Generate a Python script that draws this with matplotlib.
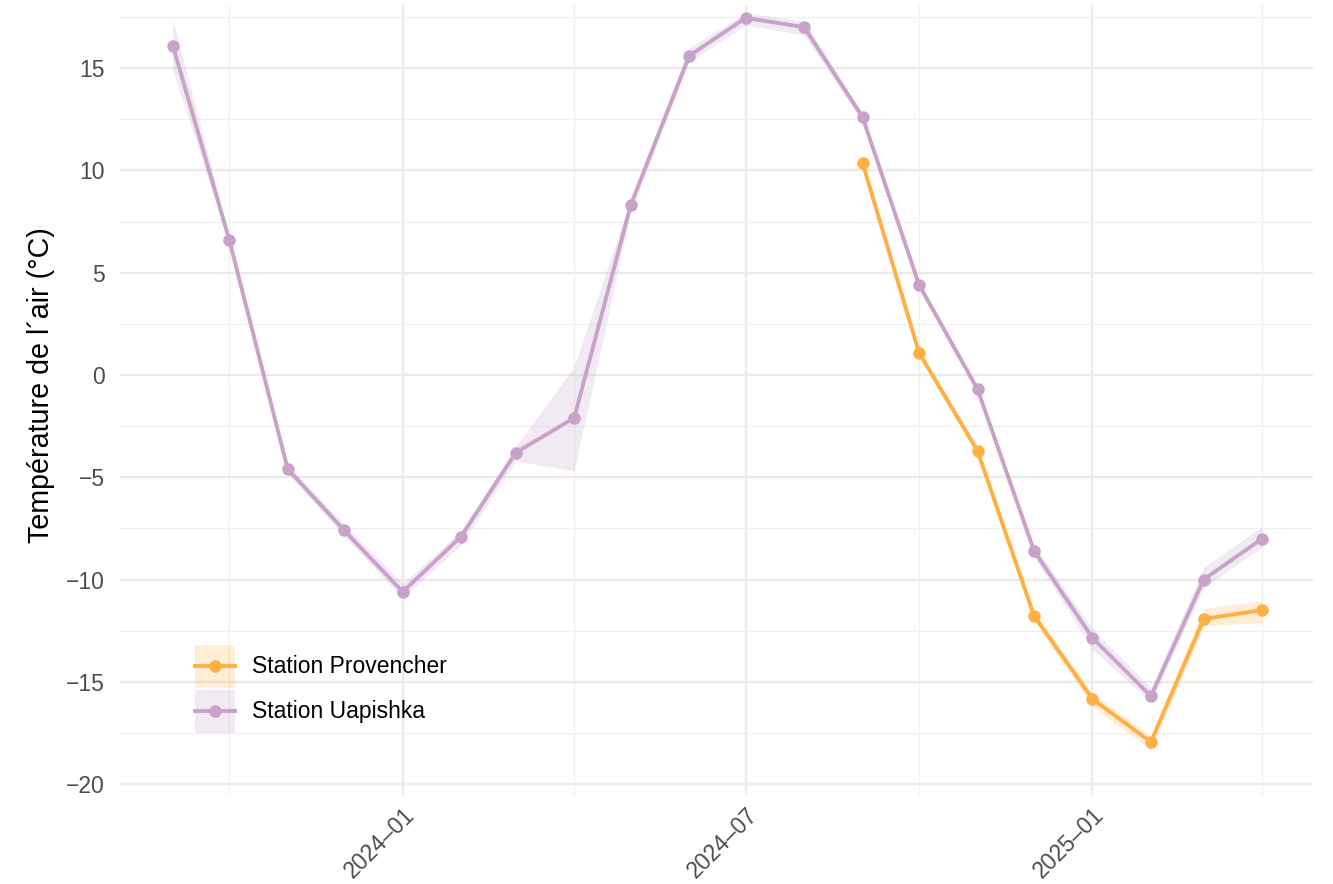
import matplotlib
matplotlib.use("Agg")
import matplotlib.pyplot as plt
from matplotlib.patches import Rectangle
from matplotlib.lines import Line2D
from matplotlib.legend_handler import HandlerBase
import numpy as np
import datetime as dt

plt.rcParams['font.family'] = ['Liberation Sans', 'DejaVu Sans']

# ---- data ----
uap_dates = ["2023-09-01", "2023-10-01", "2023-11-01", "2023-12-01", "2024-01-01",
             "2024-02-01", "2024-03-01", "2024-04-01", "2024-05-01", "2024-06-01",
             "2024-07-01", "2024-08-01", "2024-09-01", "2024-10-01", "2024-11-01",
             "2024-12-01", "2025-01-01", "2025-02-01", "2025-03-01", "2025-04-01"]
uap_mean = [16.1, 6.6, -4.6, -7.6, -10.6, -7.9, -3.8, -2.1, 8.3, 15.6,
            17.45, 17.0, 12.6, 4.4, -0.7, -8.6, -12.85, -15.7, -10.0, -8.0]
uap_low = [14.9, 6.4, -4.8, -7.9, -10.9, -8.3, -4.2, -4.7, 8.0, 15.3,
           17.1, 16.6, 12.4, 4.2, -0.9, -8.9, -13.4, -16.0, -10.4, -8.4]
uap_high = [17.4, 6.8, -4.4, -7.3, -10.2, -7.6, -3.5, 0.4, 8.6, 16.0,
            17.7, 17.3, 12.8, 4.6, -0.5, -8.3, -12.4, -15.3, -9.4, -7.4]

prov_dates = ["2024-09-01", "2024-10-01", "2024-11-01", "2024-12-01",
              "2025-01-01", "2025-02-01", "2025-03-01", "2025-04-01"]
prov_mean = [10.36, 1.08, -3.71, -11.78, -15.84, -17.94, -11.93, -11.49]
prov_low = [10.15, 0.88, -3.9, -12.0, -16.2, -18.3, -12.25, -12.1]
prov_high = [10.55, 1.28, -3.5, -11.55, -15.55, -17.65, -11.4, -11.05]

stations = ["Station Provencher", "Station Uapishka"]
colors = ["#FFB045", "#C8A2C8"]

y_ticks = [-20, -15, -10, -5, 0, 5, 10, 15]
x_ticks = ["2024-01-01", "2024-07-01", "2025-01-01"]
x_ticklabels = ["2024\u201301", "2024\u201307", "2025\u201301"]
x_minor = ["2023-10-01", "2024-04-01", "2024-10-01", "2025-04-01"]

def to_dt(lst):
    return [dt.datetime.strptime(s, "%Y-%m-%d") for s in lst]

LW = 2.8
MS = 8
ALPHA = 0.22


class RibbonLineHandler(HandlerBase):
    def create_artists(self, legend, orig_handle, xdescent, ydescent, width,
                       height, fontsize, trans):
        color = orig_handle.get_color()
        x0, y0 = -xdescent, -ydescent
        yc = y0 + height / 2.0
        r = Rectangle((x0, y0), width, height, facecolor=color, alpha=ALPHA,
                      edgecolor='none', transform=trans)
        ln = Line2D([x0, x0 + width], [yc, yc], color=color, linewidth=LW,
                    transform=trans)
        mk = Line2D([x0 + width / 2.0], [yc], color=color, marker='o',
                    markersize=MS, linestyle='none', transform=trans)
        return [r, ln, mk]


fig = plt.figure(figsize=(13.33, 8.84), dpi=100)
ax = fig.add_axes([0.090, 0.1007, 0.895, 0.8936])

series = [
    (to_dt(prov_dates), prov_mean, prov_low, prov_high),
    (to_dt(uap_dates), uap_mean, uap_low, uap_high),
]
for idx in [1, 0]:
    d, m, lo, hi = series[idx]
    ax.fill_between(d, lo, hi, color=colors[idx], alpha=ALPHA, linewidth=0, zorder=2)
line_handles = [None, None]
for idx in [1, 0]:
    d, m, lo, hi = series[idx]
    ln, = ax.plot(d, m, color=colors[idx], linewidth=LW, marker='o', markersize=MS,
                  zorder=3)
    line_handles[idx] = ln

ax.set_xlim(dt.datetime(2023, 8, 4), dt.datetime(2025, 4, 28))
ax.set_ylim(-20.53, 18.08)

ax.set_yticks(y_ticks)
ax.set_yticklabels([("\u2212" + str(abs(v))) if v < 0 else str(v) for v in y_ticks])
ax.set_yticks(np.arange(-17.5, 18, 5), minor=True)

ax.set_xticks(to_dt(x_ticks))
ax.set_xticklabels(x_ticklabels, rotation=45, ha='right', va='top',
                   rotation_mode='anchor')
ax.set_xticks(to_dt(x_minor), minor=True)

ax.grid(which='major', color='#EBEBEB', linewidth=1.7, zorder=0)
ax.grid(which='minor', color='#F0F0F0', linewidth=1.0, zorder=0)
ax.set_axisbelow(True)
for s in ax.spines.values():
    s.set_visible(False)
ax.tick_params(which='both', length=0)
ax.tick_params(axis='y', labelsize=16.5, labelcolor='#4D4D4D', pad=11)
ax.tick_params(axis='x', labelsize=16.5, labelcolor='#4D4D4D', pad=6)

ax.set_ylabel("Temp\u00e9rature de l\u00b4air (\u00b0C)", fontsize=20.6, color='black')
ax.yaxis.set_label_coords(-0.0545, 0.519)

leg = ax.legend(line_handles, stations, handler_map={Line2D: RibbonLineHandler()},
                loc='upper left', bbox_to_anchor=(0.0629, 0.190), frameon=False,
                fontsize=16.5, handlelength=1.75, handleheight=2.51, handletextpad=0.74,
                labelspacing=0.09, borderaxespad=0, borderpad=0)

fig.savefig("out.png", dpi=100)
